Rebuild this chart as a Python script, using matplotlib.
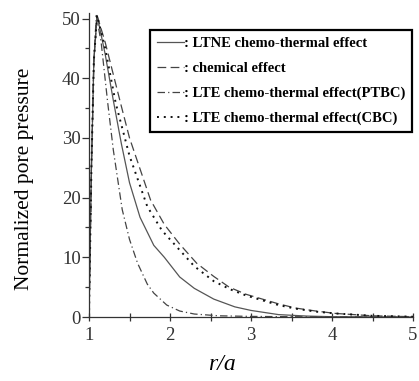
import numpy as np
import matplotlib.pyplot as plt
from matplotlib.ticker import MultipleLocator

plt.rcParams['font.family'] = ['Liberation Serif', 'DejaVu Serif']

# Données
x_ltne = [1.0, 1.03, 1.06, 1.1, 1.2, 1.3, 1.4, 1.5, 1.63, 1.8, 1.93, 2.12, 2.3, 2.54, 2.8, 3.0, 3.34, 3.7, 4.0, 5.0]
y_ltne = [0, 25, 43, 50.5, 44, 36.3, 29, 22.5, 16.7, 12, 10, 6.7, 4.8, 3.0, 1.7, 1.1, 0.4, 0.15, 0.05, 0]

x_chem = [1.0, 1.03, 1.06, 1.1, 1.2, 1.39, 1.5, 1.76, 1.93, 2.12, 2.33, 2.54, 2.73, 2.94, 3.14, 3.34, 3.55, 3.8, 4.04, 4.5, 5.0]
y_chem = [0, 25, 43, 50.5, 46, 35.8, 30, 19.6, 15.5, 12.2, 9.0, 6.8, 5.0, 3.8, 3.0, 2.2, 1.5, 1.0, 0.6, 0.2, 0.05]

x_ptbc = [1.0, 1.03, 1.06, 1.09, 1.15, 1.23, 1.3, 1.41, 1.5, 1.6, 1.72, 1.8, 1.96, 2.12, 2.3, 2.6, 3.0, 4.0, 5.0]
y_ptbc = [0, 25, 43, 50.5, 46, 36, 28, 18, 13, 9, 5.5, 4, 2, 1.0, 0.5, 0.2, 0.1, 0, 0]

x_cbc = [1.0, 1.03, 1.06, 1.1, 1.2, 1.33, 1.5, 1.72, 1.9, 2.12, 2.3, 2.54, 2.75, 2.94, 3.14, 3.34, 3.55, 3.8, 4.04, 4.5, 5.0]
y_cbc = [0, 25, 43, 50.5, 45, 35.8, 27, 18.5, 14.5, 11.2, 8.5, 6.0, 4.6, 3.6, 2.8, 2.0, 1.4, 0.9, 0.6, 0.2, 0.05]

labels = [': LTNE chemo-thermal effect', ': chemical effect',
          ': LTE chemo-thermal effect(PTBC)', ': LTE chemo-thermal effect(CBC)']

fig = plt.figure(figsize=(4.19, 3.81), dpi=100)
ax = fig.add_axes([89/419, 1-317/381, 324/419, 51*5.97/381])

ax.plot(x_ltne, y_ltne, color='#555555', lw=0.9, linestyle='-', label=labels[0])
ax.plot(x_chem, y_chem, color='#444444', lw=0.9, dashes=(7, 3.5), label=labels[1])
ax.plot(x_ptbc, y_ptbc, color='#444444', lw=0.9, dashes=(6, 2.5, 1, 2.5), label=labels[2])
ax.plot(x_cbc, y_cbc, color='#111111', lw=1.4, dashes=(1, 2.5), label=labels[3])

ax.set_xlim(1, 5)
ax.set_ylim(0, 51)
ax.spines['top'].set_visible(False)
ax.spines['right'].set_visible(False)
for s in ['left', 'bottom']:
    ax.spines[s].set_color('#333333')
    ax.spines[s].set_linewidth(0.9)

ax.xaxis.set_major_locator(MultipleLocator(1))
ax.xaxis.set_minor_locator(MultipleLocator(0.5))
ax.yaxis.set_major_locator(MultipleLocator(10))
ax.yaxis.set_minor_locator(MultipleLocator(5))
ax.tick_params(axis='x', which='both', direction='inout', length=6, width=0.9,
               color='#333333', labelsize=13.5, labelcolor='#333333', pad=4)
ax.tick_params(axis='y', which='major', direction='out', length=5, width=0.9,
               color='#333333', labelsize=13.5, labelcolor='#333333', pad=1)
ax.tick_params(axis='y', which='minor', direction='out', length=3, width=0.9, color='#333333')

fig.text(25/419, 1-179/381, 'Normalized pore pressure', rotation=90,
         ha='center', va='center', fontsize=15.5)
fig.text(222/419, 1-365/381, 'r/a', style='italic', ha='center', va='center', fontsize=17)

leg = ax.legend(loc='upper left', bbox_to_anchor=(150/419, 1-30/381),
                bbox_transform=fig.transFigure, fancybox=False, edgecolor='black',
                framealpha=1, handlelength=1.9, handletextpad=0.0, labelspacing=0.8,
                borderpad=0.45, borderaxespad=0,
                prop={'family': 'Liberation Serif', 'weight': 'bold', 'size': 10.5})
leg.get_frame().set_linewidth(1.6)

plt.savefig('out.png')
